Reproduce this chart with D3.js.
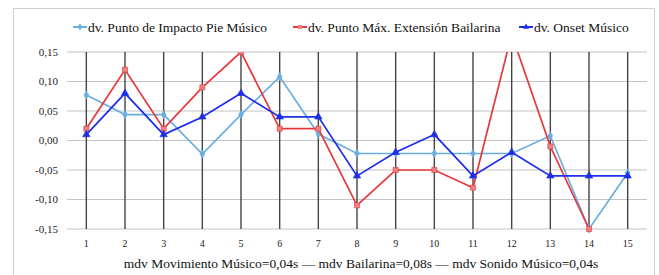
<!DOCTYPE html>
<html>
<head>
<meta charset="utf-8">
<script src="https://d3js.org/d3.v7.min.js"></script>
<style>
  body { margin: 0; background: #fff; }
  text { font-family: "Liberation Serif", "DejaVu Serif", "Tinos", serif; }
  .grid line { stroke: #c4c4c4; stroke-width: 1.2; }
  .vgrid line { stroke: #444; stroke-width: 1.4; }
  .axis text { fill: #222; }
</style>
</head>
<body>
<svg id="chart" width="659" height="275"></svg>
<script>
  var categories = ['1','2','3','4','5','6','7','8','9','10','11','12','13','14','15'];
  var yTicks = [-0.15, -0.10, -0.05, 0, 0.05, 0.10, 0.15];

  var piePunto = [0.077, 0.044, 0.044, -0.023, 0.044, 0.108, 0.011, -0.022, -0.022, -0.022, -0.022, -0.022, 0.008, -0.15, -0.055];
  var bailarina = [0.02, 0.12, 0.02, 0.09, 0.15, 0.02, 0.02, -0.11, -0.05, -0.05, -0.08, 0.18, -0.01, -0.15, null];
  var onset = [0.01, 0.08, 0.01, 0.04, 0.08, 0.04, 0.04, -0.06, -0.02, 0.01, -0.06, -0.02, -0.06, -0.06, -0.06];

  var seriesNames = ['dv. Punto de Impacto Pie Músico', 'dv. Punto Máx. Extensión Bailarina', 'dv. Onset Músico'];
  var seriesColors = ['#6aaee0', '#e8383c', '#1e2ee8'];
  var seriesData = [piePunto, bailarina, onset];
  var seriesMarkers = ['diamond', 'square', 'triangle'];

  var svg = d3.select('#chart');
  var serif = '"Liberation Serif", "DejaVu Serif", serif';

  // outer frame
  svg.append('rect')
    .attr('x', 13.5).attr('y', 8.5)
    .attr('width', 641).attr('height', 280)
    .attr('fill', 'none').attr('stroke', '#d0d0d0');

  var plotLeft = 67, plotRight = 647, plotTop = 52, plotBottom = 229;

  var x = d3.scalePoint().domain(categories).range([plotLeft, plotRight]).padding(0.5);
  var y = d3.scaleLinear().domain([-0.15, 0.15]).range([plotBottom, plotTop]);
  var fmt = function(d) { return d3.format('.2f')(d).replace('−', '-').replace('.', ','); };

  // horizontal grid
  svg.append('g').attr('class', 'grid')
    .selectAll('line').data(yTicks).enter().append('line')
      .attr('x1', plotLeft).attr('x2', plotRight)
      .attr('y1', function(d) { return y(d); })
      .attr('y2', function(d) { return y(d); });

  // vertical lines at categories
  svg.append('g').attr('class', 'vgrid')
    .selectAll('line').data(categories).enter().append('line')
      .attr('x1', function(d) { return x(d); })
      .attr('x2', function(d) { return x(d); })
      .attr('y1', plotTop).attr('y2', plotBottom);

  // y axis labels
  svg.append('g').attr('class', 'axis')
    .selectAll('text').data(yTicks).enter().append('text')
      .attr('x', 58).attr('y', function(d) { return y(d); })
      .attr('dy', '0.35em')
      .attr('text-anchor', 'end')
      .attr('font-family', serif)
      .attr('font-size', 11)
      .text(fmt);

  // x axis labels
  svg.append('g').attr('class', 'axis')
    .selectAll('text').data(categories).enter().append('text')
      .attr('x', function(d) { return x(d); }).attr('y', 247)
      .attr('text-anchor', 'middle')
      .attr('font-family', serif)
      .attr('font-size', 10)
      .text(function(d) { return d; });

  svg.append('defs').append('clipPath').attr('id', 'plot-clip')
    .append('rect').attr('x', plotLeft - 10).attr('y', plotTop).attr('width', plotRight - plotLeft + 20).attr('height', plotBottom - plotTop + 6);

  var symbolFor = {
    diamond: d3.symbol().type(d3.symbolDiamond).size(20),
    square: d3.symbol().type(d3.symbolSquare).size(26),
    triangle: d3.symbol().type(d3.symbolTriangle).size(24)
  };

  var line = d3.line()
    .defined(function(d) { return d.v != null; })
    .x(function(d) { return x(d.c); })
    .y(function(d) { return y(d.v); });

  var plot = svg.append('g').attr('clip-path', 'url(#plot-clip)');

  seriesData.forEach(function(values, i) {
    var pts = values.map(function(v, j) { return { c: categories[j], v: v }; });
    var g = plot.append('g');
    g.append('path')
      .datum(pts)
      .attr('fill', 'none')
      .attr('stroke', seriesColors[i])
      .attr('stroke-width', 1.7)
      .attr('d', line);
    g.selectAll('path.mk')
      .data(pts.filter(function(d) { return d.v != null; }))
      .enter().append('path')
        .attr('class', 'mk')
        .attr('transform', function(d) { return 'translate(' + x(d.c) + ',' + y(d.v) + ')'; })
        .attr('d', symbolFor[seriesMarkers[i]])
        .attr('fill', i == 1 ? '#f08080' : seriesColors[i])
        .attr('stroke', seriesColors[i])
        .attr('stroke-width', 0.6);
  });

  // legend
  var legendX = [73, 293, 519];
  var legend = svg.append('g');
  seriesNames.forEach(function(name, i) {
    var lg = legend.append('g').attr('transform', 'translate(' + legendX[i] + ',27)');
    lg.append('line').attr('x1', 0).attr('x2', 14).attr('y1', 0).attr('y2', 0)
      .attr('stroke', seriesColors[i]).attr('stroke-width', 2);
    lg.append('path').attr('transform', 'translate(7,0)')
      .attr('d', d3.symbol().type([d3.symbolDiamond, d3.symbolSquare, d3.symbolTriangle][i]).size(16))
      .attr('fill', i == 1 ? '#f08080' : seriesColors[i]);
    lg.append('text').attr('x', 15).attr('y', 0).attr('dy', '0.35em')
      .attr('font-family', serif)
      .attr('font-size', 13.5).attr('fill', '#111')
      .text(name);
  });

  // bottom title
  svg.append('text')
    .attr('x', 361).attr('y', 268)
    .attr('text-anchor', 'middle')
    .attr('font-family', serif)
    .attr('font-size', 13.5)
    .attr('fill', '#111')
    .text('mdv Movimiento Músico=0,04s — mdv Bailarina=0,08s — mdv Sonido Músico=0,04s');
</script>
</body>
</html>
